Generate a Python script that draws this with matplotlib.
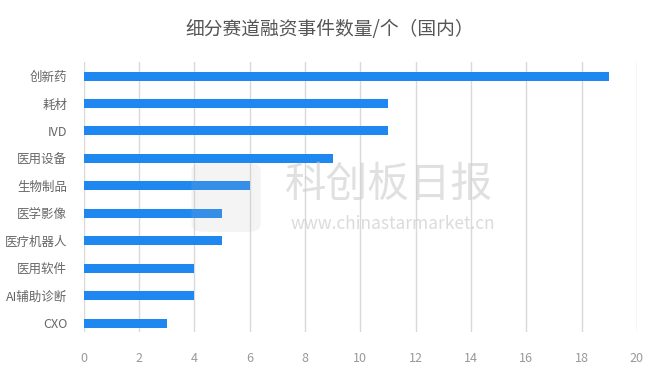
import matplotlib.pyplot as plt
from matplotlib.patches import FancyBboxPatch

plt.rcParams['font.family'] = ['Noto Sans CJK SC', 'DejaVu Sans']

categories = ['创新药', '耗材', 'IVD', '医用设备', '生物制品', '医学影像', '医疗机器人', '医用软件', 'AI辅助诊断', 'CXO']
counts = [19, 11, 11, 9, 6, 5, 5, 4, 4, 3]
xticks = [0, 2, 4, 6, 8, 10, 12, 14, 16, 18, 20]

fig = plt.figure(figsize=(6.6, 3.74), dpi=100)
ax = fig.add_axes([0.127, 0.112, 0.838, 0.722])

ypos = list(range(len(categories)))
ax.barh(ypos, counts, height=0.33, color='#1e88f0', zorder=3)

ax.set_xlim(0, 20)
ax.set_ylim(9.33, -0.51)
ax.set_xticks(xticks)
ax.set_xticklabels([str(t) for t in xticks])
ax.set_yticks(ypos)
ax.set_yticklabels(categories)
ax.tick_params(axis='x', length=0, pad=14, labelsize=9, labelcolor='#999999')
ax.tick_params(axis='y', length=0, pad=12, labelsize=9, labelcolor='#666666')
ax.grid(axis='x', color='#d9d9d9', linewidth=1, zorder=0)
for s in ax.spines.values():
    s.set_visible(False)

fig.text(0.5, 0.92, '细分赛道融资事件数量/个（国内）', ha='center', va='center',
         fontsize=13.5, color='#555555')

# watermark
fig.patches.append(FancyBboxPatch((0.29, 0.38), 0.105, 0.185, boxstyle='round,pad=0,rounding_size=0.02',
                                  transform=fig.transFigure, facecolor='#bbbbbb', edgecolor='none',
                                  alpha=0.15, zorder=5))
fig.text(0.59, 0.505, '科创板日报', ha='center', va='center', fontsize=30,
         color='#cccccc', alpha=0.6, zorder=6)
fig.text(0.595, 0.4, 'www.chinastarmarket.cn', ha='center', va='center', fontsize=12.5,
         color='#cccccc', alpha=0.7, zorder=6)

fig.savefig('out.png', dpi=100)
